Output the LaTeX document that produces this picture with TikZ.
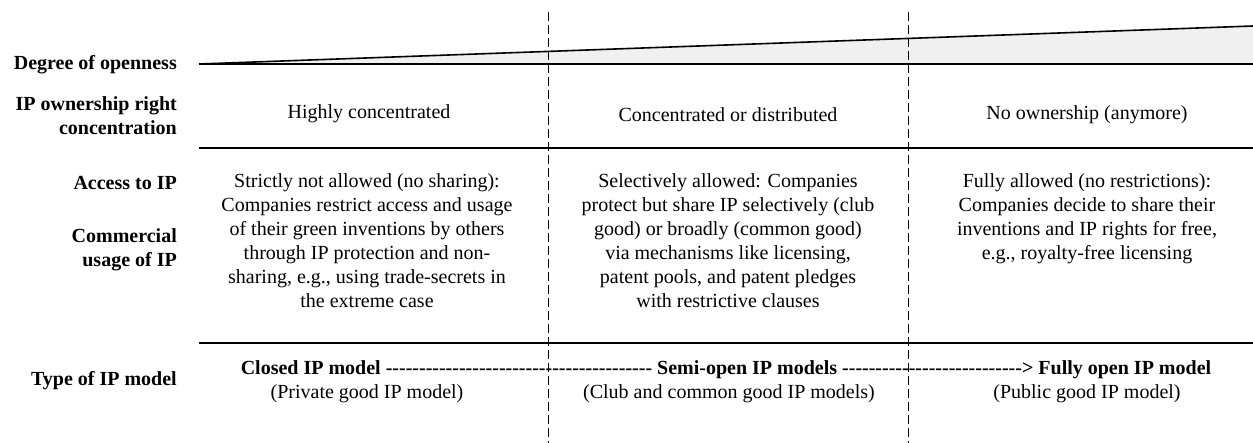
\documentclass[tikz,border=0pt]{standalone}
\usepackage{fontspec}
\setmainfont{Liberation Serif}
% same face, without TeX ligatures, so that hyphen runs stay hyphens
\newfontfamily\hyphenfont{Liberation Serif}

% a run of plain hyphens
\newcommand{\dashrun}[1]{\foreach \k in {1,...,#1}{-}}

\begin{document}
\begin{tikzpicture}[
	x=1pt, y=-1pt,
	every node/.style={font=\fontsize{20}{24}\selectfont, inner sep=0pt},
	rowlabel/.style={font=\fontsize{20}{24}\selectfont\bfseries, anchor=east, align=right},
	cell/.style={align=center},
	rule/.style={draw, line width=1.5pt},
	divider/.style={draw, line width=1pt, dash pattern=on 9pt off 4pt},
	]
	\useasboundingbox (0,0) rectangle (1253,443);
	
	% openness wedge
	\coordinate (wl) at (199,64);
	\coordinate (wt) at (1253,26);
	\coordinate (wr) at (1253,64);
	\fill [black!6] (wl) -- (wt) -- (wr) -- cycle;
	\draw [line width=1.6pt] (wl) -- (wt);
	\draw [line width=2.2pt] (wl) -- (wr);
	
	% row rules
	\draw [rule] (199,148) -- (1253,148);
	\draw [rule] (199,343) -- (1253,343);
	
	% column dividers
	\draw [divider] (548,12) -- (548,443);
	\draw [divider] (908,12) -- (908,443);
	
	\node [rowlabel] (open) at (177,65) {Degree of openness};
	\node [rowlabel] (own) at (177,116) {IP ownership right\\concentration};
	\node [rowlabel] (access) at (177,183) {Access to IP};
	\node [rowlabel] (usage) at (177,250) {Commercial\\usage of IP};
	\node [rowlabel] (type) at (177,381) {Type of IP model};
	
	\node [cell] (own1) at (369,114) {Highly concentrated};
	\node [cell] (own2) at (728,115) {Concentrated or distributed};
	\node [cell] (own3) at (1087,115) {No ownership (anymore)};
	
	\node [cell, anchor=north] (use1) at (367,173) {Strictly not allowed (no sharing):\\Companies restrict access and usage\\of their green inventions by others\\through IP protection and non-\\sharing, e.g., using trade-secrets in\\the extreme case};
	\node [cell, anchor=north] (use2) at (728,173) {Selectively allowed: Companies\\protect but share IP selectively (club\\good) or broadly (common good)\\via mechanisms like licensing,\\patent pools, and patent pledges\\with restrictive clauses};
	\node [cell, anchor=north] (use3) at (1087,173) {Fully allowed (no restrictions):\\Companies decide to share their\\inventions and IP rights for free,\\e.g., royalty-free licensing};
	
	\node [font=\fontsize{20}{24}\hyphenfont\bfseries] (models) at (726,370) {Closed IP model \dashrun{40} Semi-open IP models \dashrun{27}> Fully open IP model};
	\node (good1) at (367,394) {(Private good IP model)};
	\node (good2) at (729,394) {(Club and common good IP models)};
	\node (good3) at (1087,394) {(Public good IP model)};
\end{tikzpicture}
\end{document}
